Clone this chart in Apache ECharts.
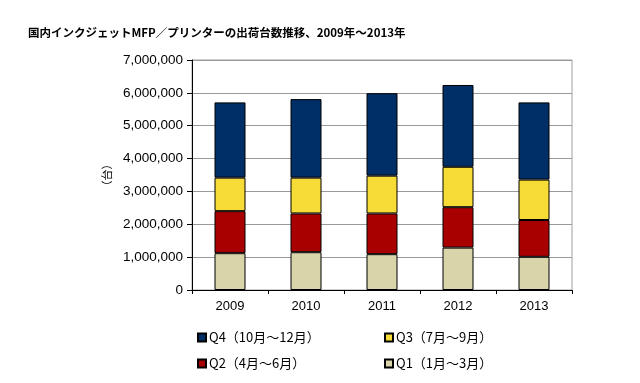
<!DOCTYPE html>
<html><head><meta charset="utf-8">
<script src="https://cdn.jsdelivr.net/npm/echarts@6/dist/echarts.min.js"></script>
<style>html,body{margin:0;padding:0;background:#fff}#c{width:640px;height:383px}</style>
</head><body><div id="c"></div>
<script>
const years = ['2009','2010','2011','2012','2013'];
const q1 = [1120000, 1150000, 1090000, 1290000, 1010000];
const q2 = [1280000, 1180000, 1240000, 1230000, 1120000];
const q3 = [1020000, 1090000, 1150000, 1230000, 1230000];
const q4 = [2290000, 2390000, 2510000, 2490000, 2350000];
const names = ['Q1（1月～3月）','Q2（4月～6月）','Q3（7月～9月）','Q4（10月～12月）'];
const colors = ['#DAD4AA','#A80000','#F7DC37','#002E66'];
const vals = [q1,q2,q3,q4];

const chart = echarts.init(document.getElementById('c'));
const legendPos = {3:[192,326],2:[379,326],1:[192,352],0:[379,352]};
chart.setOption({
  animation:false,
  title:{text:'国内インクジェットMFP／プリンターの出荷台数推移、2009年～2013年',left:23,top:22,
    textStyle:{fontFamily:'Noto Sans CJK JP',fontSize:11.5,fontWeight:'bold',color:'#000'}},
  grid:{left:192,right:68,top:60,bottom:93,show:true,borderColor:'#a0a0a0',borderWidth:1},
  legend:[3,2,1,0].map(i=>({data:[names[i]],left:legendPos[i][0],top:legendPos[i][1],
    itemWidth:8,itemHeight:8,itemGap:3,icon:'rect',
    textStyle:{fontFamily:'Noto Sans CJK JP',fontSize:13,color:'#000',padding:[0,0,0,-2]}})),
  xAxis:{type:'category',data:years,
    axisLine:{lineStyle:{color:'#000'}},axisTick:{show:true,lineStyle:{color:'#000'},length:4},
    axisLabel:{fontFamily:'Liberation Sans',fontSize:13,color:'#000',margin:10}},
  yAxis:{type:'value',min:0,max:7000000,interval:1000000,
    name:'（台）',nameLocation:'middle',nameGap:78,nameRotate:90,
    nameTextStyle:{fontFamily:'Noto Sans CJK JP',fontSize:11,color:'#000'},
    axisLine:{show:true,lineStyle:{color:'#000'}},axisTick:{show:true,length:5,lineStyle:{color:'#000'}},
    splitLine:{lineStyle:{color:'#999'}},
    axisLabel:{fontFamily:'Liberation Sans',fontSize:13.5,color:'#000',margin:9,
      formatter:v=>v.toLocaleString('en-US')}},
  series:vals.map((d,i)=>({name:names[i],type:'bar',stack:'a',data:d,barWidth:31,
    itemStyle:{color:colors[i],borderColor:'#000',borderWidth:1}}))
});
</script></body></html>
